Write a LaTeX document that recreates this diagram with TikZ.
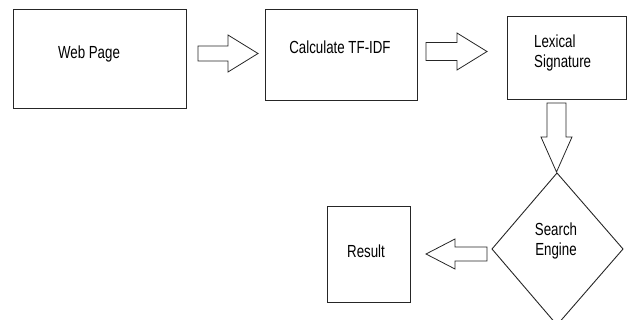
\documentclass[tikz,border=0pt]{standalone}
\usepackage{fontspec}
\setmainfont[FakeStretch=0.76]{Liberation Sans}
\begin{document}
\begin{tikzpicture}[x=1pt,y=-1pt,
  box/.style={draw=black!85,line width=0.9pt},
  blk/.style={draw=black!85,line width=0.8pt,line join=miter},
  lbl/.style={text=black,font=\fontsize{17.5}{20}\selectfont,inner sep=0pt,align=left}]
\useasboundingbox (0,0) rectangle (627,320);
% boxes
\draw[box] (13,9) rectangle (186,108);
\node[lbl] (web) at (89,54) {Web Page};
\draw[box] (265,9) rectangle (417,100);
\node[lbl] (tfidf) at (340,47) {Calculate TF-IDF};
\draw[box] (507,16) rectangle (626,99);
\node[lbl,anchor=west] (lex) at (534,53) {Lexical\\Signature};
\draw[box] (557,173) -- (623,249) -- (557,325) -- (492,249) -- cycle;
\node[lbl,align=center] (se) at (556,241) {Search\\Engine};
\draw[box] (327,206) rectangle (410,302);
\node[lbl] (res) at (366,251) {Result};
% block arrows
\draw[blk] (198,46) -- (228,46) -- (228,35) -- (258,53.5) -- (228,72) -- (228,61) -- (198,61) -- cycle;
\draw[blk] (426,42.5) -- (457,42.5) -- (457,33) -- (487,51.5) -- (457,70) -- (457,60.5) -- (426,60.5) -- cycle;
\draw[blk] (547,103) -- (547,137) -- (541,137) -- (556.5,172) -- (572,137) -- (566,137) -- (566,103) -- cycle;
\draw[blk] (487,247) -- (455,247) -- (455,239) -- (426,254) -- (455,269) -- (455,261) -- (487,261) -- cycle;
\end{tikzpicture}
\end{document}
